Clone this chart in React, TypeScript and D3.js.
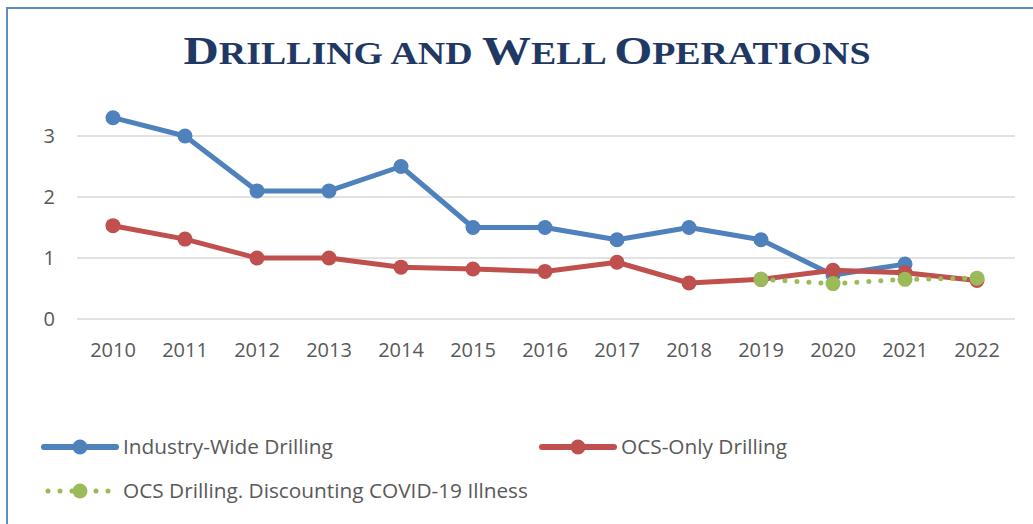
import React from 'react';
import * as d3 from 'd3';

const years = ['2010', '2011', '2012', '2013', '2014', '2015', '2016', '2017', '2018', '2019', '2020', '2021', '2022'];
const industryWide = [3.3, 3.0, 2.1, 2.1, 2.5, 1.5, 1.5, 1.3, 1.5, 1.3, 0.72, 0.9, null];
const ocsOnly = [1.53, 1.31, 1.0, 1.0, 0.85, 0.82, 0.78, 0.93, 0.59, 0.65, 0.8, 0.76, 0.63];
const ocsNoCovid = [null, null, null, null, null, null, null, null, null, 0.65, 0.58, 0.65, 0.67];
const yTicks = [0, 1, 2, 3];
const titleWords = ['Drilling', 'and', 'Well', 'Operations'];

const W = 1033;
const H = 524;
const font = '"Open Sans", "Noto Sans", sans-serif';

const series = [
  { name: 'Industry-Wide Drilling', values: industryWide, color: '#4f81bd', dotted: false },
  { name: 'OCS-Only Drilling', values: ocsOnly, color: '#c0504d', dotted: false },
  { name: 'OCS Drilling. Discounting COVID-19 Illness', values: ocsNoCovid, color: '#9bbb59', dotted: true },
];

export default function App() {
  const x = d3.scaleBand<string>().domain(years).range([77, 1013]);
  const y = d3.scaleLinear().domain([0, 1]).range([319, 258]);
  const cx = (yr: string) => (x(yr) || 0) + x.bandwidth() / 2;

  const line = d3
    .line<{ yr: string; v: number | null }>()
    .defined((d) => d.v != null)
    .x((d) => cx(d.yr))
    .y((d) => y(d.v as number));

  const legend = [
    { s: series[0], lx: 44, ly: 447 },
    { s: series[1], lx: 542, ly: 447 },
    { s: series[2], lx: 44, ly: 491 },
  ];

  // small caps by hand: capital letters full size, the rest upper-cased smaller
  const titleSpans: { t: string; big: boolean }[] = [];
  titleWords.forEach((w, i) => {
    const big = w[0] === w[0].toUpperCase();
    if (big) {
      titleSpans.push({ t: w[0], big: true });
      titleSpans.push({ t: w.slice(1).toUpperCase() + (i < titleWords.length - 1 ? ' ' : ''), big: false });
    } else {
      titleSpans.push({ t: w.toUpperCase() + ' ', big: false });
    }
  });

  return (
    <svg width={W} height={H} style={{ position: 'fixed', left: 0, top: 0, background: '#fff' }}>
      <rect x={7} y={8} width={W + 20} height={H + 20} fill="#fff" stroke="#5d8ccb" strokeWidth={2} />

      <text
        x={527}
        y={64}
        textAnchor="middle"
        fontFamily='"Liberation Serif", "DejaVu Serif", serif'
        fontWeight="bold"
        fill="#1f3864"
        textLength={687}
        lengthAdjust="spacingAndGlyphs"
        style={{ whiteSpace: 'pre' }}
      >
        {titleSpans.map((s, i) => (
          <tspan key={i} fontSize={s.big ? 40 : 31}>
            {s.t}
          </tspan>
        ))}
      </text>

      {yTicks.map((t) => (
        <g key={t}>
          <line x1={77} x2={1015} y1={y(t)} y2={y(t)} stroke="#d9d9d9" strokeWidth={1.5} />
          <text x={55} y={y(t)} dy="0.36em" textAnchor="end" fontFamily={font} fontSize={20} fill="#595959">
            {t}
          </text>
        </g>
      ))}

      {years.map((yr) => (
        <text key={yr} x={cx(yr)} y={357} textAnchor="middle" fontFamily={font} fontSize={20} fill="#595959">
          {yr}
        </text>
      ))}

      {series.map((s) => {
        const pts = years.map((yr, i) => ({ yr, v: s.values[i] }));
        return (
          <g key={s.name}>
            <path
              d={line(pts) || ''}
              fill="none"
              stroke={s.color}
              strokeWidth={5}
              strokeLinecap="round"
              strokeLinejoin="round"
              strokeDasharray={s.dotted ? '0 12' : undefined}
            />
            {pts
              .filter((p) => p.v != null)
              .map((p) => (
                <circle key={p.yr} cx={cx(p.yr)} cy={y(p.v as number)} r={7.5} fill={s.color} />
              ))}
          </g>
        );
      })}

      {legend.map(({ s, lx, ly }) => (
        <g key={s.name}>
          <line
            x1={lx + (s.dotted ? 4 : 0)}
            x2={lx + 72}
            y1={ly}
            y2={ly}
            stroke={s.color}
            strokeWidth={s.dotted ? 5 : 6}
            strokeLinecap="round"
            strokeDasharray={s.dotted ? '0 12' : undefined}
          />
          <circle cx={lx + 36} cy={ly} r={7.5} fill={s.color} />
          <text x={lx + 79} y={ly} dy="0.36em" fontFamily={font} fontSize={20.8} fill="#595959">
            {s.name}
          </text>
        </g>
      ))}
    </svg>
  );
}
